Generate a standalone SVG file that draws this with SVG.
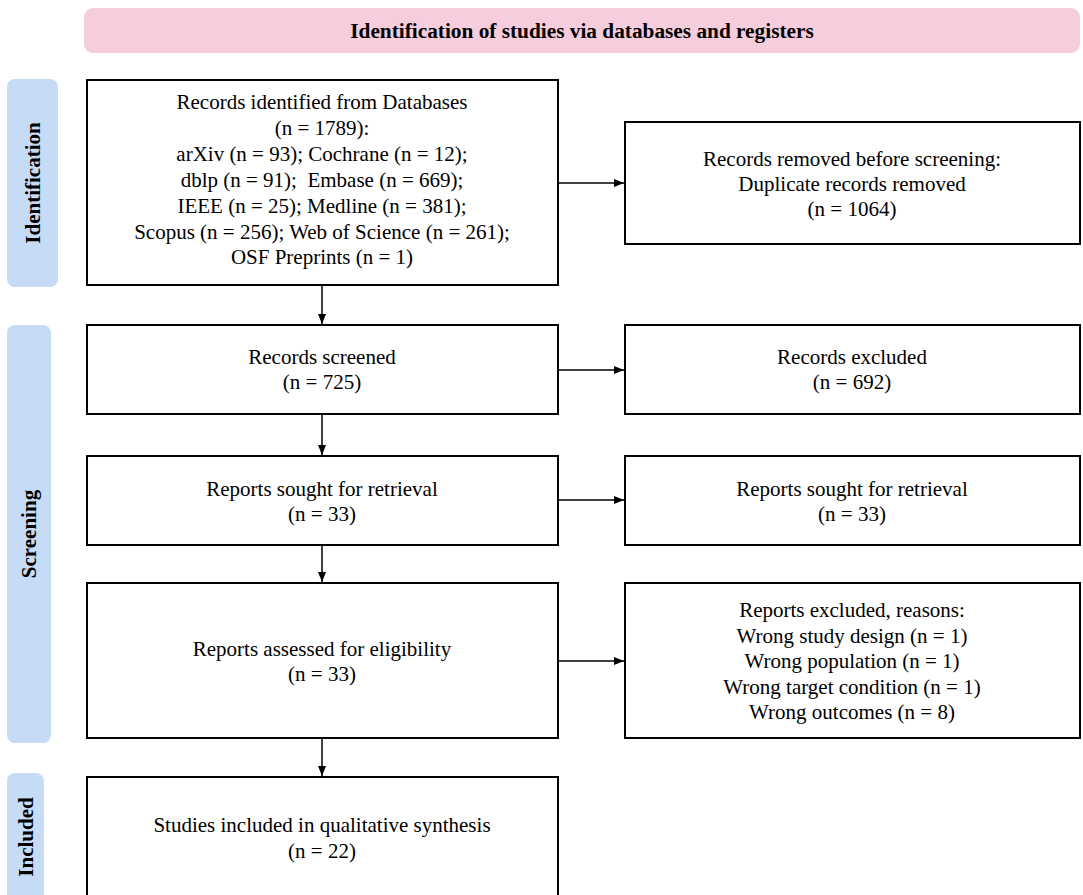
<svg xmlns="http://www.w3.org/2000/svg" width="1083" height="895" viewBox="0 0 1083 895">
<style>
.box{fill:#fff;stroke:#000;stroke-width:2}
.t{font-family:"Liberation Serif","Times New Roman",serif;font-size:21px;fill:#000;text-anchor:middle}
.b{font-weight:bold}
.side{fill:#c6dbf6}
.ban{fill:#f5cddc}
.c{stroke:#000;stroke-width:1.5;fill:none;marker-end:url(#ah)}
</style>
<defs>
<marker id="ah" markerWidth="10" markerHeight="8" refX="10" refY="4" orient="auto" markerUnits="userSpaceOnUse">
<path d="M0,0 L10,4 L0,8 Z" fill="#000"/>
</marker>
</defs>
<rect width="1083" height="895" fill="#fff"/>
<g id="banner">
<rect class="ban" x="84" y="8" width="996" height="45" rx="9"/>
<text class="t b" x="582" y="38" style="font-size:21.3px">Identification of studies via databases and registers</text>
</g>
<g id="side-identification">
<rect class="side" x="7" y="79" width="51" height="208" rx="8"/>
<text class="t b" transform="translate(40,183) rotate(-90)">Identification</text>
</g>
<g id="side-screening">
<rect class="side" x="7" y="325" width="44" height="418" rx="8"/>
<text class="t b" transform="translate(36,534) rotate(-90)">Screening</text>
</g>
<g id="side-included">
<rect class="side" x="7" y="773" width="37" height="140" rx="8"/>
<text class="t b" transform="translate(33,837) rotate(-90)">Included</text>
</g>
<g id="n-identified">
<rect class="box" x="87" y="80" width="471" height="205"/>
<text class="t" x="322" y="109">Records identified from Databases</text>
<text class="t" x="322" y="135">(n = 1789):</text>
<text class="t" x="322" y="161">arXiv (n = 93); Cochrane (n = 12);</text>
<text class="t" x="322" y="187" xml:space="preserve">dblp (n = 91);  Embase (n = 669);</text>
<text class="t" x="322" y="213">IEEE (n = 25); Medline (n = 381);</text>
<text class="t" x="322" y="239">Scopus (n = 256); Web of Science (n = 261);</text>
<text class="t" x="322" y="264">OSF Preprints (n = 1)</text>
</g>
<g id="n-removed">
<rect class="box" x="625" y="122" width="455" height="122"/>
<text class="t" x="852" y="166">Records removed before screening:</text>
<text class="t" x="852" y="191">Duplicate records removed</text>
<text class="t" x="852" y="216">(n = 1064)</text>
</g>
<g id="n-screened">
<rect class="box" x="87" y="325" width="471" height="89"/>
<text class="t" x="322" y="364">Records screened</text>
<text class="t" x="322" y="389">(n = 725)</text>
</g>
<g id="n-excluded">
<rect class="box" x="625" y="325" width="455" height="89"/>
<text class="t" x="852" y="364">Records excluded</text>
<text class="t" x="852" y="389">(n = 692)</text>
</g>
<g id="n-sought">
<rect class="box" x="87" y="456" width="471" height="89"/>
<text class="t" x="322" y="496">Reports sought for retrieval</text>
<text class="t" x="322" y="521">(n = 33)</text>
</g>
<g id="n-sought-right">
<rect class="box" x="625" y="456" width="455" height="89"/>
<text class="t" x="852" y="496">Reports sought for retrieval</text>
<text class="t" x="852" y="521">(n = 33)</text>
</g>
<g id="n-assessed">
<rect class="box" x="87" y="583" width="471" height="155"/>
<text class="t" x="322" y="656">Reports assessed for eligibility</text>
<text class="t" x="322" y="681">(n = 33)</text>
</g>
<g id="n-reports-excluded">
<rect class="box" x="625" y="583" width="455" height="155"/>
<text class="t" x="852" y="617">Reports excluded, reasons:</text>
<text class="t" x="852" y="643">Wrong study design (n = 1)</text>
<text class="t" x="852" y="668">Wrong population (n = 1)</text>
<text class="t" x="852" y="694">Wrong target condition (n = 1)</text>
<text class="t" x="852" y="719">Wrong outcomes (n = 8)</text>
</g>
<g id="n-included">
<rect class="box" x="87" y="777" width="471" height="125"/>
<text class="t" x="322" y="832">Studies included in qualitative synthesis</text>
<text class="t" x="322" y="858">(n = 22)</text>
</g>
<g id="connectors">
<path class="c" d="M322,285 V324"/>
<path class="c" d="M322,414 V455"/>
<path class="c" d="M322,545 V582"/>
<path class="c" d="M322,738 V776"/>
<path class="c" d="M558,183 H624"/>
<path class="c" d="M558,370 H624"/>
<path class="c" d="M558,500 H624"/>
<path class="c" d="M558,661 H624"/>
</g>
</svg>
